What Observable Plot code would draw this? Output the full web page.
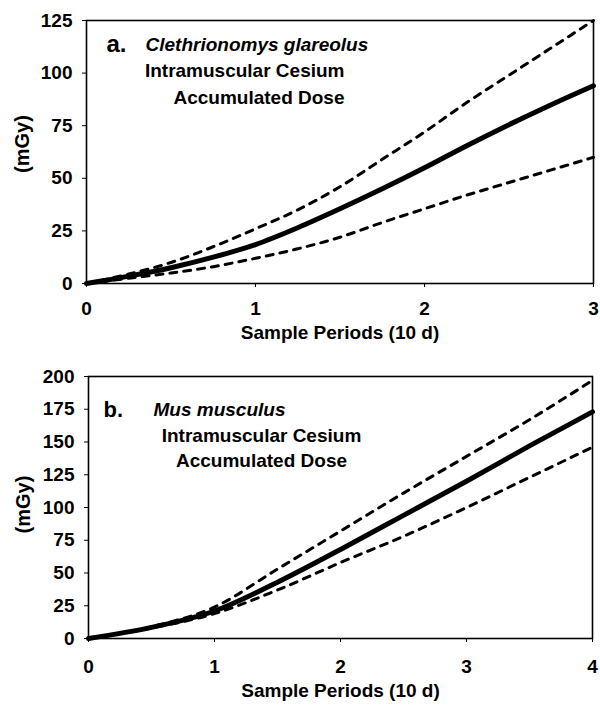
<!DOCTYPE html>
<html>
<head>
<meta charset="utf-8">
<script src="https://cdn.jsdelivr.net/npm/d3@7"></script>
<script src="https://cdn.jsdelivr.net/npm/@observablehq/plot@0.6"></script>
<style>
  html, body { margin: 0; padding: 0; background: #fff; }
  #chart { width: 600px; }
  #chart svg { display: block; }
</style>
</head>
<body>
<div id="chart"></div>
<script>
// Panel a: Clethrionomys glareolus
const periodsA = [0, 0.25, 0.5, 0.75, 1, 1.25, 1.5, 1.75, 2, 2.25, 2.5, 2.75, 3];
const meanA    = [0, 3.5, 7.5, 12.5, 18.5, 26.5, 35.5, 45, 55, 65.5, 75.5, 85, 94];
const upperA   = [0, 4.5, 10, 17.5, 26, 35, 46, 59, 72, 86, 99, 112, 125];
const lowerA   = [0, 2.5, 5, 8, 12, 16.5, 22, 29, 35.5, 42, 48, 54, 60];
const yTicksA  = [0, 25, 50, 75, 100, 125];
const xTicksA  = [0, 1, 2, 3];

// Panel b: Mus musculus
const periodsB = [0, 0.5, 1, 1.5, 2, 2.5, 3, 3.5, 4];
const meanB    = [0, 8.5, 21, 43, 68, 94, 120, 147, 173];
const upperB   = [0, 9, 24, 53, 82, 111, 139, 167, 197];
const lowerB   = [0, 8, 19, 37, 58, 78, 100, 123, 146];
const yTicksB  = [0, 25, 50, 75, 100, 125, 150, 175, 200];
const xTicksB  = [0, 1, 2, 3, 4];

const FONT = "Liberation Sans, Arial, Helvetica, sans-serif";
const FS = 19;

function rows(xs, ys) { return xs.map((x, i) => ({x, y: ys[i]})); }

function panel(o) {
  return Plot.plot({
    width: 600,
    height: o.height,
    marginTop: o.mt, marginBottom: o.mb, marginLeft: o.ml, marginRight: o.mr,
    style: {fontFamily: FONT, fontSize: FS + "px", fontWeight: "bold", color: "#000", background: "#fff"},
    x: {domain: o.xDomain},
    y: {domain: o.yDomain},
    marks: [
      Plot.axisX({ticks: o.xTicks, tickFormat: d3.format("d"), tickSize: 4, tickPadding: o.xPad, label: null, fontSize: FS, fontWeight: "bold"}),
      Plot.axisY({ticks: o.yTicks, tickFormat: d3.format("d"), tickSize: 4, tickPadding: 10, label: null, fontSize: FS, fontWeight: "bold"}),
      Plot.line(rows(o.xs, o.upper), {x: "x", y: "y", stroke: "#000", strokeWidth: 3, strokeDasharray: "7,7", curve: "monotone-x"}),
      Plot.line(rows(o.xs, o.lower), {x: "x", y: "y", stroke: "#000", strokeWidth: 3, strokeDasharray: "7,7", curve: "monotone-x"}),
      Plot.line(rows(o.xs, o.mean), {x: "x", y: "y", stroke: "#000", strokeWidth: 5, curve: "monotone-x"}),
      Plot.frame({stroke: "#000", strokeWidth: 1.6}),
      Plot.text([o.letter], {frameAnchor: "top-left", dx: o.letterDx, dy: o.spDy, text: d => d, fontSize: o.letterSize, fontWeight: "bold", textAnchor: "start", lineAnchor: "middle", fill: "#000"}),
      Plot.text([o.species], {frameAnchor: "top-left", dx: o.spDx, dy: o.spDy, text: d => d, fontSize: FS, fontWeight: "bold", fontStyle: "italic", textAnchor: "start", lineAnchor: "middle", fill: "#000"}),
      Plot.text(["Intramuscular Cesium"], {frameAnchor: "top-left", dx: o.l2Dx, dy: o.l2Dy, text: d => d, fontSize: FS, fontWeight: "bold", textAnchor: o.lAnchor, lineAnchor: "middle", fill: "#000"}),
      Plot.text(["Accumulated Dose"], {frameAnchor: "top-left", dx: o.l2Dx, dy: o.l3Dy, text: d => d, fontSize: FS, fontWeight: "bold", textAnchor: o.lAnchor, lineAnchor: "middle", fill: "#000"}),
      Plot.text(["(mGy)"], {frameAnchor: "left", dx: o.yLabelDx, dy: o.yLabelDy, rotate: -90, text: d => d, fontSize: 20, fontWeight: "bold", textAnchor: "middle", lineAnchor: "middle", fill: "#000"}),
      Plot.text(["Sample Periods (10 d)"], {frameAnchor: "bottom", dy: o.xLabelDy, text: d => d, fontSize: FS, fontWeight: "bold", textAnchor: "middle", lineAnchor: "middle", fill: "#000"})
    ]
  });
}

const panelA = panel({
  height: 345, mt: 20, mb: 62, ml: 86, mr: 7,
  xDomain: [0, 3], yDomain: [0, 125], xTicks: xTicksA, yTicks: yTicksA, xPad: 14,
  xs: periodsA, mean: meanA, upper: upperA, lower: lowerA,
  letter: "a.", letterSize: 24, letterDx: 20,
  species: "Clethrionomys glareolus", spDx: 59, spDy: 24,
  l2Dx: 258, l2Dy: 50, l3Dy: 77, lAnchor: "end",
  yLabelDx: -64, yLabelDy: -8,
  xLabelDy: 49
});

const panelB = panel({
  height: 365, mt: 31, mb: 72, ml: 88, mr: 8,
  xDomain: [0, 4], yDomain: [0, 200], xTicks: xTicksB, yTicks: yTicksB, xPad: 17,
  xs: periodsB, mean: meanB, upper: upperB, lower: lowerB,
  letter: "b.", letterSize: 22, letterDx: 15,
  species: "Mus musculus", spDx: 65, spDy: 33,
  l2Dx: 173, l2Dy: 59, l3Dy: 84, lAnchor: "middle",
  yLabelDx: -65, yLabelDy: -3,
  xLabelDy: 52
});

document.getElementById("chart").append(panelA, panelB);
</script>
</body>
</html>
